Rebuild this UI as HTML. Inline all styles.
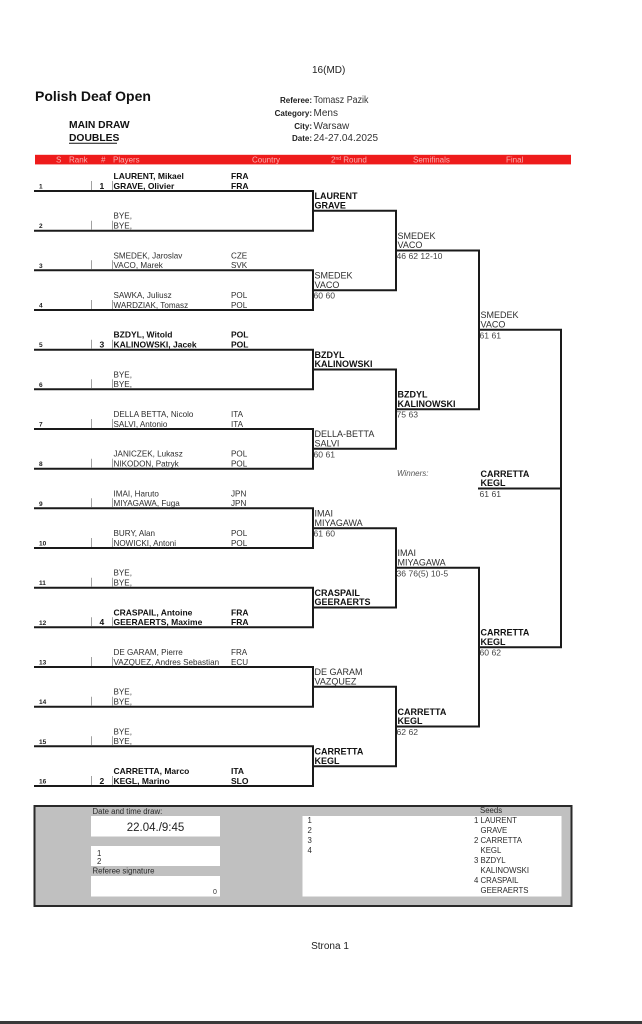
<!DOCTYPE html>
<html>
<head>
<meta charset="utf-8">
<style>
html,body{margin:0;padding:0;background:#fff;width:642px;height:1024px;overflow:hidden}
svg{display:block}
text{font-family:"Liberation Sans",Arial,sans-serif;fill:#1e1e1e}
.p{font-size:8.1px;fill:#2e2e2e}
.pb{font-size:8.5px;font-weight:bold;fill:#111}
.n{font-size:6.5px;font-weight:bold;fill:#222}
.sd{font-size:8.5px;font-weight:bold;fill:#111}
.r{font-size:9px;fill:#2e2e2e}
.rb{font-size:9px;font-weight:bold;fill:#111}
.sc{font-size:8.6px;fill:#444}
.hb{font-size:8px;fill:#f7b0b0}
.bx{font-size:7.8px;fill:#2a2a2a}
.tk{stroke:#8a8a8a;stroke-width:0.8}
</style>
</head>
<body>
<svg width="642" height="1024" viewBox="0 0 642 1024" xmlns="http://www.w3.org/2000/svg">
<rect x="0" y="0" width="642" height="1024" fill="#fff"/>

<!-- Header -->
<text x="312" y="73" style="font-size:10px">16(MD)</text>
<text x="35" y="101" style="font-size:14px;font-weight:bold;fill:#111">Polish Deaf Open</text>
<text x="69" y="128" style="font-size:10.3px;font-weight:bold;fill:#111">MAIN DRAW</text>
<text x="69" y="141" style="font-size:10.3px;font-weight:bold;fill:#111">DOUBLES</text>
<line x1="69" y1="143.3" x2="117" y2="143.3" stroke="#111" stroke-width="1"/>

<text x="312" y="103" text-anchor="end" style="font-size:8px;font-weight:bold">Referee:</text>
<text x="312" y="116" text-anchor="end" style="font-size:8px;font-weight:bold">Category:</text>
<text x="312" y="129" text-anchor="end" style="font-size:8px;font-weight:bold">City:</text>
<text x="312" y="141" text-anchor="end" style="font-size:8px;font-weight:bold">Date:</text>
<text x="313.5" y="103" style="font-size:10px;fill:#333" textLength="55" lengthAdjust="spacingAndGlyphs">Tomasz Pazik</text>
<text x="313.5" y="116" style="font-size:10px;fill:#333">Mens</text>
<text x="313.5" y="129" style="font-size:10px;fill:#333">Warsaw</text>
<text x="313.5" y="141" style="font-size:10px;fill:#333">24-27.04.2025</text>

<!-- Red bar -->
<rect x="35" y="154.8" width="536" height="9.6" fill="#ee1b1b"/>
<text class="hb" x="56" y="162.6">S</text>
<text class="hb" x="69" y="162.6">Rank</text>
<text class="hb" x="101" y="162.6">#</text>
<text class="hb" x="113" y="162.6">Players</text>
<text class="hb" x="252" y="162.6">Country</text>
<text class="hb" x="331" y="162.6">2<tspan style="font-size:5px" dy="-2.5">nd</tspan><tspan dy="2.5"> Round</tspan></text>
<text class="hb" x="413" y="162.6">Semifinals</text>
<text class="hb" x="506" y="162.6">Final</text>

<!-- Bracket lines -->
<path fill="none" stroke="#1a1a1a" stroke-width="2" stroke-linecap="square" d="
M35 191H313V230.7H35 M313 210.8H396
M35 270.3H313V310H35 M313 290.2H396
M35 349.7H313V389.3H35 M313 369.5H396
M35 429H313V468.7H35 M313 448.8H396
M35 508.3H313V548H35 M313 528.2H396
M35 587.7H313V627.3H35 M313 607.5H396
M35 667H313V706.7H35 M313 686.8H396
M35 746.3H313V786H35 M313 766.2H396
M396 210.8V290.2 M396 250.5H479
M396 369.5V448.8 M396 409.2H479
M396 528.2V607.5 M396 567.8H479
M396 686.8V766.2 M396 726.5H479
M479 250.5V409.2 M479 329.8H561
M479 567.8V726.5 M479 647.2H561
M561 329.8V647.2 M479 488.5H561
"/>

<!-- Rows -->
<g transform="translate(0,191)">
<text class="n" x="39" y="-2.5">1</text><line class="tk" x1="91.5" y1="-10" x2="91.5" y2="-1"/><text class="sd" x="99.5" y="-2.2">1</text><line class="tk" x1="112.5" y1="-10" x2="112.5" y2="-1"/>
<text class="pb" x="113.5" y="-12">LAURENT, Mikael</text><text class="pb" x="113.5" y="-2.2">GRAVE, Olivier</text>
<text class="pb" x="231" y="-12">FRA</text><text class="pb" x="231" y="-2.2">FRA</text>
</g>
<g transform="translate(0,230.7)">
<text class="n" x="39" y="-2.5">2</text><line class="tk" x1="91.5" y1="-10" x2="91.5" y2="-1"/><line class="tk" x1="112.5" y1="-10" x2="112.5" y2="-1"/>
<text class="p" x="113.5" y="-12">BYE,</text><text class="p" x="113.5" y="-2.2">BYE,</text>
</g>
<g transform="translate(0,270.3)">
<text class="n" x="39" y="-2.5">3</text><line class="tk" x1="91.5" y1="-10" x2="91.5" y2="-1"/><line class="tk" x1="112.5" y1="-10" x2="112.5" y2="-1"/>
<text class="p" x="113.5" y="-12">SMEDEK, Jaroslav</text><text class="p" x="113.5" y="-2.2">VACO, Marek</text>
<text class="p" x="231" y="-12">CZE</text><text class="p" x="231" y="-2.2">SVK</text>
</g>
<g transform="translate(0,310)">
<text class="n" x="39" y="-2.5">4</text><line class="tk" x1="91.5" y1="-10" x2="91.5" y2="-1"/><line class="tk" x1="112.5" y1="-10" x2="112.5" y2="-1"/>
<text class="p" x="113.5" y="-12">SAWKA, Juliusz</text><text class="p" x="113.5" y="-2.2">WARDZIAK, Tomasz</text>
<text class="p" x="231" y="-12">POL</text><text class="p" x="231" y="-2.2">POL</text>
</g>
<g transform="translate(0,349.7)">
<text class="n" x="39" y="-2.5">5</text><line class="tk" x1="91.5" y1="-10" x2="91.5" y2="-1"/><text class="sd" x="99.5" y="-2.2">3</text><line class="tk" x1="112.5" y1="-10" x2="112.5" y2="-1"/>
<text class="pb" x="113.5" y="-12">BZDYL, Witold</text><text class="pb" x="113.5" y="-2.2">KALINOWSKI, Jacek</text>
<text class="pb" x="231" y="-12">POL</text><text class="pb" x="231" y="-2.2">POL</text>
</g>
<g transform="translate(0,389.3)">
<text class="n" x="39" y="-2.5">6</text><line class="tk" x1="91.5" y1="-10" x2="91.5" y2="-1"/><line class="tk" x1="112.5" y1="-10" x2="112.5" y2="-1"/>
<text class="p" x="113.5" y="-12">BYE,</text><text class="p" x="113.5" y="-2.2">BYE,</text>
</g>
<g transform="translate(0,429)">
<text class="n" x="39" y="-2.5">7</text><line class="tk" x1="91.5" y1="-10" x2="91.5" y2="-1"/><line class="tk" x1="112.5" y1="-10" x2="112.5" y2="-1"/>
<text class="p" x="113.5" y="-12">DELLA BETTA, Nicolo</text><text class="p" x="113.5" y="-2.2">SALVI, Antonio</text>
<text class="p" x="231" y="-12">ITA</text><text class="p" x="231" y="-2.2">ITA</text>
</g>
<g transform="translate(0,468.7)">
<text class="n" x="39" y="-2.5">8</text><line class="tk" x1="91.5" y1="-10" x2="91.5" y2="-1"/><line class="tk" x1="112.5" y1="-10" x2="112.5" y2="-1"/>
<text class="p" x="113.5" y="-12">JANICZEK, Lukasz</text><text class="p" x="113.5" y="-2.2">NIKODON, Patryk</text>
<text class="p" x="231" y="-12">POL</text><text class="p" x="231" y="-2.2">POL</text>
</g>
<g transform="translate(0,508.3)">
<text class="n" x="39" y="-2.5">9</text><line class="tk" x1="91.5" y1="-10" x2="91.5" y2="-1"/><line class="tk" x1="112.5" y1="-10" x2="112.5" y2="-1"/>
<text class="p" x="113.5" y="-12">IMAI, Haruto</text><text class="p" x="113.5" y="-2.2">MIYAGAWA, Fuga</text>
<text class="p" x="231" y="-12">JPN</text><text class="p" x="231" y="-2.2">JPN</text>
</g>
<g transform="translate(0,548)">
<text class="n" x="39" y="-2.5">10</text><line class="tk" x1="91.5" y1="-10" x2="91.5" y2="-1"/><line class="tk" x1="112.5" y1="-10" x2="112.5" y2="-1"/>
<text class="p" x="113.5" y="-12">BURY, Alan</text><text class="p" x="113.5" y="-2.2">NOWICKI, Antoni</text>
<text class="p" x="231" y="-12">POL</text><text class="p" x="231" y="-2.2">POL</text>
</g>
<g transform="translate(0,587.7)">
<text class="n" x="39" y="-2.5">11</text><line class="tk" x1="91.5" y1="-10" x2="91.5" y2="-1"/><line class="tk" x1="112.5" y1="-10" x2="112.5" y2="-1"/>
<text class="p" x="113.5" y="-12">BYE,</text><text class="p" x="113.5" y="-2.2">BYE,</text>
</g>
<g transform="translate(0,627.3)">
<text class="n" x="39" y="-2.5">12</text><line class="tk" x1="91.5" y1="-10" x2="91.5" y2="-1"/><text class="sd" x="99.5" y="-2.2">4</text><line class="tk" x1="112.5" y1="-10" x2="112.5" y2="-1"/>
<text class="pb" x="113.5" y="-12">CRASPAIL, Antoine</text><text class="pb" x="113.5" y="-2.2">GEERAERTS, Maxime</text>
<text class="pb" x="231" y="-12">FRA</text><text class="pb" x="231" y="-2.2">FRA</text>
</g>
<g transform="translate(0,667)">
<text class="n" x="39" y="-2.5">13</text><line class="tk" x1="91.5" y1="-10" x2="91.5" y2="-1"/><line class="tk" x1="112.5" y1="-10" x2="112.5" y2="-1"/>
<text class="p" x="113.5" y="-12">DE GARAM, Pierre</text><text class="p" x="113.5" y="-2.2">VAZQUEZ, Andres Sebastian</text>
<text class="p" x="231" y="-12">FRA</text><text class="p" x="231" y="-2.2">ECU</text>
</g>
<g transform="translate(0,706.7)">
<text class="n" x="39" y="-2.5">14</text><line class="tk" x1="91.5" y1="-10" x2="91.5" y2="-1"/><line class="tk" x1="112.5" y1="-10" x2="112.5" y2="-1"/>
<text class="p" x="113.5" y="-12">BYE,</text><text class="p" x="113.5" y="-2.2">BYE,</text>
</g>
<g transform="translate(0,746.3)">
<text class="n" x="39" y="-2.5">15</text><line class="tk" x1="91.5" y1="-10" x2="91.5" y2="-1"/><line class="tk" x1="112.5" y1="-10" x2="112.5" y2="-1"/>
<text class="p" x="113.5" y="-12">BYE,</text><text class="p" x="113.5" y="-2.2">BYE,</text>
</g>
<g transform="translate(0,786)">
<text class="n" x="39" y="-2.5">16</text><line class="tk" x1="91.5" y1="-10" x2="91.5" y2="-1"/><text class="sd" x="99.5" y="-2.2">2</text><line class="tk" x1="112.5" y1="-10" x2="112.5" y2="-1"/>
<text class="pb" x="113.5" y="-12">CARRETTA, Marco</text><text class="pb" x="113.5" y="-2.2">KEGL, Marino</text>
<text class="pb" x="231" y="-12">ITA</text><text class="pb" x="231" y="-2.2">SLO</text>
</g>

<!-- 2nd round -->
<text class="rb" x="314.5" y="199.1">LAURENT</text><text class="rb" x="314.5" y="208.4">GRAVE</text>
<text class="r" x="314.5" y="278.5">SMEDEK</text><text class="r" x="314.5" y="287.8">VACO</text><text class="sc" x="313.5" y="298.7">60 60</text>
<text class="rb" x="314.5" y="357.8">BZDYL</text><text class="rb" x="314.5" y="367.1">KALINOWSKI</text>
<text class="r" x="314.5" y="437.1">DELLA-BETTA</text><text class="r" x="314.5" y="446.4">SALVI</text><text class="sc" x="313.5" y="457.3">60 61</text>
<text class="r" x="314.5" y="516.5">IMAI</text><text class="r" x="314.5" y="525.8">MIYAGAWA</text><text class="sc" x="313.5" y="536.7">61 60</text>
<text class="rb" x="314.5" y="595.8">CRASPAIL</text><text class="rb" x="314.5" y="605.1">GEERAERTS</text>
<text class="r" x="314.5" y="675.1">DE GARAM</text><text class="r" x="314.5" y="684.4">VAZQUEZ</text>
<text class="rb" x="314.5" y="754.5">CARRETTA</text><text class="rb" x="314.5" y="763.8">KEGL</text>

<!-- Semifinals column -->
<text class="r" x="397.5" y="238.8">SMEDEK</text><text class="r" x="397.5" y="248.1">VACO</text><text class="sc" x="396.5" y="259">46 62 12-10</text>
<text class="rb" x="397.5" y="397.5">BZDYL</text><text class="rb" x="397.5" y="406.8">KALINOWSKI</text><text class="sc" x="396.5" y="417.7">75 63</text>
<text class="r" x="397.5" y="556.1">IMAI</text><text class="r" x="397.5" y="565.4">MIYAGAWA</text><text class="sc" x="396.5" y="576.3">36 76(5) 10-5</text>
<text class="rb" x="397.5" y="714.8">CARRETTA</text><text class="rb" x="397.5" y="724.1">KEGL</text><text class="sc" x="396.5" y="735">62 62</text>

<!-- Final column -->
<text class="r" x="480.5" y="318.1">SMEDEK</text><text class="r" x="480.5" y="327.4">VACO</text><text class="sc" x="479.5" y="338.3">61 61</text>
<text class="rb" x="480.5" y="635.5">CARRETTA</text><text class="rb" x="480.5" y="644.8">KEGL</text><text class="sc" x="479.5" y="655.7">60 62</text>

<!-- Winner -->
<text x="397" y="476" style="font-size:8px;font-style:italic;fill:#555">Winners:</text>
<text class="rb" x="480.5" y="476.8">CARRETTA</text><text class="rb" x="480.5" y="486.1">KEGL</text><text class="sc" x="479.5" y="497">61 61</text>

<!-- Bottom box -->
<rect x="34.5" y="806" width="537" height="100" fill="#c0c0c0" stroke="#2a2a2a" stroke-width="2"/>
<rect x="91" y="816" width="129" height="20.5" fill="#fff"/>
<rect x="91" y="846" width="129" height="20" fill="#fff"/>
<rect x="91" y="876" width="129" height="20.5" fill="#fff"/>
<rect x="302.5" y="816" width="259" height="80.5" fill="#fff"/>
<text class="bx" x="92.5" y="814">Date and time draw:</text>
<text x="155.5" y="831" text-anchor="middle" style="font-size:11.5px;fill:#222">22.04./9:45</text>
<text class="bx" x="97" y="856">1</text>
<text class="bx" x="97" y="864">2</text>
<text class="bx" x="92.5" y="873.5">Referee signature</text>
<text x="213" y="894" style="font-size:7px;fill:#333">0</text>
<text class="bx" x="307.5" y="823">1</text>
<text class="bx" x="307.5" y="833">2</text>
<text class="bx" x="307.5" y="843">3</text>
<text class="bx" x="307.5" y="853">4</text>
<text class="bx" x="480" y="813">Seeds</text>
<text class="bx" x="474" y="823">1 LAURENT</text>
<text class="bx" x="480.5" y="833">GRAVE</text>
<text class="bx" x="474" y="843">2 CARRETTA</text>
<text class="bx" x="480.5" y="853">KEGL</text>
<text class="bx" x="474" y="863">3 BZDYL</text>
<text class="bx" x="480.5" y="873">KALINOWSKI</text>
<text class="bx" x="474" y="883">4 CRASPAIL</text>
<text class="bx" x="480.5" y="893">GEERAERTS</text>

<!-- Footer -->
<text x="330" y="949" text-anchor="middle" style="font-size:10px;fill:#222">Strona 1</text>
<rect x="0" y="1021" width="642" height="3" fill="#3a3a3a"/>
</svg>
</body>
</html>
